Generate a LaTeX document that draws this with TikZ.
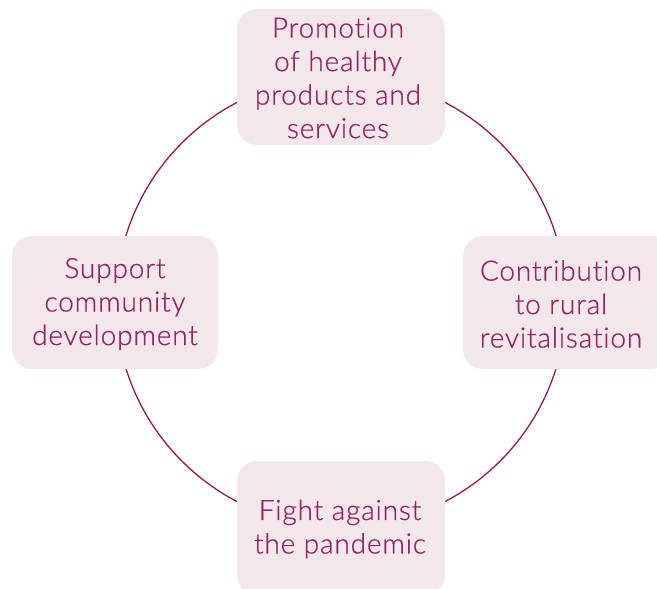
\documentclass[tikz,border=0pt]{standalone}
\usepackage{fontspec}
\setmainfont{Lato}[UprightFont=* Light, Ligatures={NoCommon}, LetterSpace=3, FakeBold=0.6]
\definecolor{txt}{HTML}{962463}
\definecolor{ring}{HTML}{8E1C58}
\definecolor{boxfill}{HTML}{F2E8EC}
\begin{document}
\begin{tikzpicture}[x=1pt,y=-1pt,
  pbox/.style={fill=boxfill, draw=none, rounded corners=20pt, minimum width=208pt, minimum height=136pt, inner sep=0pt},
  ptext/.style={text=txt, font=\fontsize{28}{33.5}\selectfont, align=center, inner sep=0pt}]
\useasboundingbox (0,0) rectangle (657,589);
\fill[white] (0,0) rectangle (657,589);
\coordinate (c) at (341,302);
\draw[ring, line width=1.3pt] (c) circle[radius=225];
\node[pbox] (top) at (341,77) {};
\node[pbox, minimum width=206pt, minimum height=133pt] (left) at (115,302.5) {};
\node[pbox, minimum height=133pt] (right) at (567,302.5) {};
\node[pbox, minimum height=134pt] (bottom) at (341,528) {};
\node[ptext] (toptext) at (338,78) {Promotion\\of healthy\\products and\\services};
\node[ptext] (lefttext) at (115,304) {Support\\community\\development};
\node[ptext] (righttext) at (561,304) {Contribution\\to rural\\revitalisation};
\node[ptext] (bottomtext) at (340,529) {Fight against\\the pandemic};
\end{tikzpicture}
\end{document}
